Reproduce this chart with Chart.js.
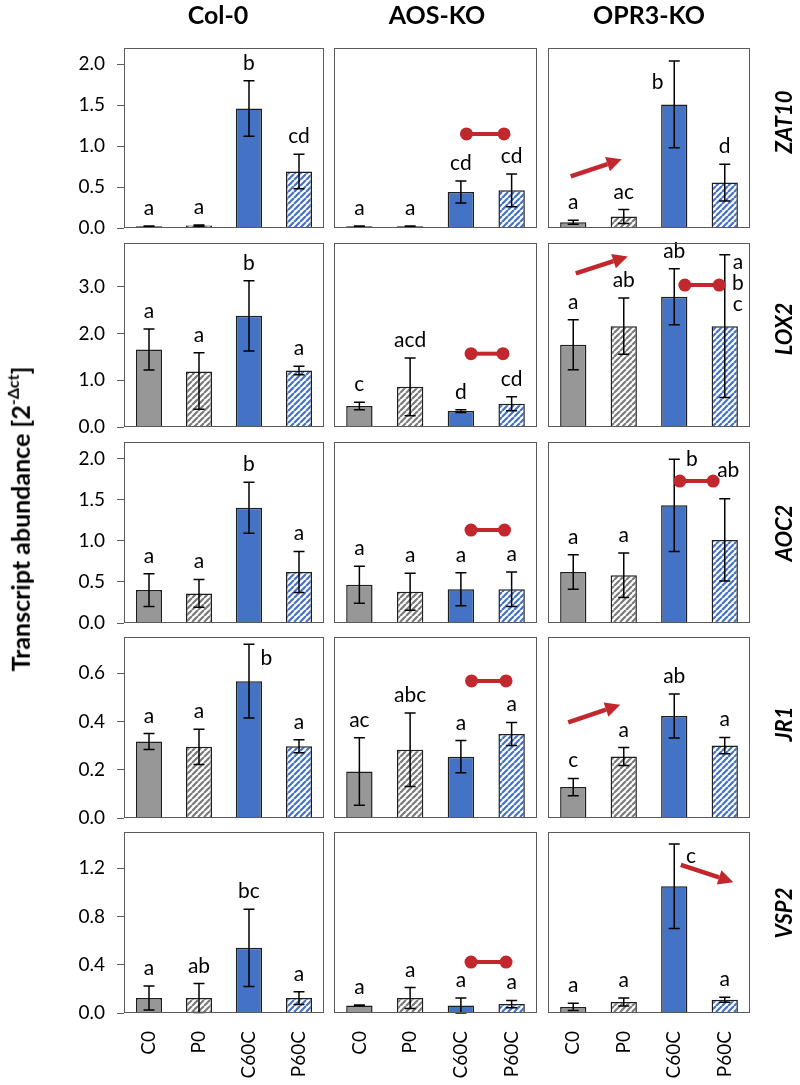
<!DOCTYPE html>
<html><head><meta charset="utf-8">
<script src="https://cdn.jsdelivr.net/npm/chart.js@4.4.1/dist/chart.umd.min.js"></script>
<style>
body{margin:0;background:#fff;width:800px;height:1085px;position:relative;overflow:hidden;font-family:Lato,"Open Sans",sans-serif;color:#000}
canvas{position:absolute}
.hdr{position:absolute;font-weight:bold;font-size:25px;transform:translate(-50%,-50%);white-space:nowrap}
.rowlab{position:absolute;font-weight:bold;font-style:italic;font-size:22px;transform:translate(-50%,-50%) rotate(-90deg);white-space:nowrap}
.ytitle{position:absolute;font-weight:bold;font-size:25px;transform:translate(-50%,-50%) rotate(-90deg);white-space:nowrap}
.ytitle sup{font-size:16px;position:relative;top:-2px}
</style></head>
<body>
<script>
// ---------- DATA ----------
const categories = ['C0', 'P0', 'C60C', 'P60C'];
const genotypes = ['Col-0', 'AOS-KO', 'OPR3-KO'];
const genes = ['ZAT10', 'LOX2', 'AOC2', 'JR1', 'VSP2'];

// y tick labels per gene row
const zat10Ticks = [0, 0.5, 1.0, 1.5, 2.0];
const lox2Ticks = [0, 1.0, 2.0, 3.0];
const aoc2Ticks = [0, 0.5, 1.0, 1.5, 2.0];
const jr1Ticks = [0, 0.2, 0.4, 0.6];
const vsp2Ticks = [0, 0.4, 0.8, 1.2];
const yMaxima = [2.2, 3.94, 2.2, 0.75, 1.5];

// ZAT10
const zat10Col0 = [0.02, 0.03, 1.46, 0.69];
const zat10Col0Err = [0.005, 0.008, 0.34, 0.21];
const zat10Col0Let = ['a', 'a', 'b', 'cd'];
const zat10Aos = [0.02, 0.02, 0.44, 0.46];
const zat10AosErr = [0.004, 0.005, 0.135, 0.2];
const zat10AosLet = ['a', 'a', 'cd', 'cd'];
const zat10Opr3 = [0.07, 0.14, 1.51, 0.555];
const zat10Opr3Err = [0.025, 0.085, 0.53, 0.225];
const zat10Opr3Let = ['a', 'ac', 'b', 'd'];
// LOX2  (error entry may be [down, up])
const lox2Col0 = [1.66, 1.19, 2.38, 1.21];
const lox2Col0Err = [0.44, [0.81, 0.40], 0.75, 0.09];
const lox2Col0Let = ['a', 'a', 'b', 'a'];
const lox2Aos = [0.45, 0.86, 0.34, 0.50];
const lox2AosErr = [0.08, 0.62, 0.03, 0.15];
const lox2AosLet = ['c', 'acd', 'd', 'cd'];
const lox2Opr3 = [1.76, 2.16, 2.79, 2.16];
const lox2Opr3Err = [0.535, 0.6, 0.6, 1.53];
const lox2Opr3Let = ['a', 'ab', 'ab', 'abc'];
// AOC2
const aoc2Col0 = [0.40, 0.36, 1.40, 0.62];
const aoc2Col0Err = [0.2, 0.17, 0.31, 0.25];
const aoc2Col0Let = ['a', 'a', 'b', 'a'];
const aoc2Aos = [0.465, 0.38, 0.41, 0.41];
const aoc2AosErr = [0.225, 0.225, 0.2, 0.21];
const aoc2AosLet = ['a', 'a', 'a', 'a'];
const aoc2Opr3 = [0.62, 0.58, 1.43, 1.01];
const aoc2Opr3Err = [0.21, 0.27, 0.56, 0.5];
const aoc2Opr3Let = ['a', 'a', 'b', 'ab'];
// JR1
const jr1Col0 = [0.317, 0.295, 0.567, 0.297];
const jr1Col0Err = [0.033, 0.073, 0.153, 0.027];
const jr1Col0Let = ['a', 'a', 'b', 'a'];
const jr1Aos = [0.193, 0.283, 0.254, 0.348];
const jr1AosErr = [0.14, 0.152, 0.067, 0.048];
const jr1AosLet = ['ac', 'abc', 'a', 'a'];
const jr1Opr3 = [0.128, 0.255, 0.423, 0.30];
const jr1Opr3Err = [0.036, 0.037, 0.091, 0.034];
const jr1Opr3Let = ['c', 'a', 'ab', 'a'];
// VSP2
const vsp2Col0 = [0.124, 0.124, 0.54, 0.124];
const vsp2Col0Err = [0.1, 0.12, 0.32, 0.053];
const vsp2Col0Let = ['a', 'ab', 'bc', 'a'];
const vsp2Aos = [0.063, 0.124, 0.063, 0.074];
const vsp2AosErr = [0.003, 0.087, 0.062, 0.03];
const vsp2AosLet = ['a', 'a', 'a', 'a'];
const vsp2Opr3 = [0.05, 0.091, 1.05, 0.11];
const vsp2Opr3Err = [0.03, 0.033, 0.35, 0.02];
const vsp2Opr3Let = ['a', 'a', 'c', 'a'];

// ---------- LAYOUT / ANNOTATION CONFIG ----------
const colL = [124, 334, 548], colR = [324, 537, 750];
const rowT = [48, 243, 442, 637, 832], rowB = [228, 427, 623, 818, 1013];
// red "no change" dumbbells: [row, col, xFrom, xTo, value] (category units / data value)
const dumbbells = [
  [0, 1, 2.11, 2.85, 1.15], [1, 1, 2.2, 2.83, 1.57], [1, 2, 2.21, 2.89, 3.04],
  [2, 1, 2.2, 2.86, 1.13], [2, 2, 2.11, 2.77, 1.725], [3, 1, 2.21, 2.89, 0.568],
  [4, 1, 2.2, 2.89, 0.422]
];
// red arrows: [row, col, x1, v1, x2, v2]
const arrows = [
  [0, 2, -0.05, 0.63, 0.96, 0.84], [1, 2, 0.05, 3.29, 1.08, 3.65],
  [3, 2, -0.1, 0.396, 0.93, 0.469], [4, 2, 2.13, 1.228, 3.17, 1.084]
];
// letters not placed directly above their error bar: [row, col, bar, dx(cat units), value(middle), stacked]
const labelSpots = [
  [0, 2, 2, -0.33, 1.78, false], [1, 2, 3, 0.26, 3.07, true], [2, 2, 2, 0.35, 1.99, false],
  [2, 2, 3, 0.07, 1.86, false], [3, 0, 2, 0.35, 0.663, false], [4, 2, 2, 0.33, 1.30, false]
];

const tickRows = [zat10Ticks, lox2Ticks, aoc2Ticks, jr1Ticks, vsp2Ticks];
const table = [
  [[zat10Col0, zat10Col0Err, zat10Col0Let], [zat10Aos, zat10AosErr, zat10AosLet], [zat10Opr3, zat10Opr3Err, zat10Opr3Let]],
  [[lox2Col0, lox2Col0Err, lox2Col0Let], [lox2Aos, lox2AosErr, lox2AosLet], [lox2Opr3, lox2Opr3Err, lox2Opr3Let]],
  [[aoc2Col0, aoc2Col0Err, aoc2Col0Let], [aoc2Aos, aoc2AosErr, aoc2AosLet], [aoc2Opr3, aoc2Opr3Err, aoc2Opr3Let]],
  [[jr1Col0, jr1Col0Err, jr1Col0Let], [jr1Aos, jr1AosErr, jr1AosLet], [jr1Opr3, jr1Opr3Err, jr1Opr3Let]],
  [[vsp2Col0, vsp2Col0Err, vsp2Col0Let], [vsp2Aos, vsp2AosErr, vsp2AosLet], [vsp2Opr3, vsp2Opr3Err, vsp2Opr3Let]]
];

const FONT = 'Lato, "Open Sans", sans-serif';
Chart.defaults.font.family = FONT;
Chart.defaults.color = '#000';
const RED = '#C1272D';
const GRAY = '#979797', BLUE = '#4472C4';

function hatch(color) {
  const s = 6, c = document.createElement('canvas');
  c.width = s; c.height = s;
  const g = c.getContext('2d');
  g.fillStyle = '#fff'; g.fillRect(0, 0, s, s);
  g.strokeStyle = color; g.lineWidth = 2.2;
  g.beginPath();
  for (const k of [-1, 0, 1]) { g.moveTo(k * s, s); g.lineTo(k * s + s, 0); }
  g.stroke();
  return g.createPattern(c, 'repeat');
}
const grayHatch = hatch('#7a7a7a');
const blueHatch = hatch(BLUE);

function makePanel(r, c) {
  const [means, errs, letters] = table[r][c];
  const L = colL[c], R = colR[c], T = rowT[r], B = rowB[r];
  const PAD = 30;
  const wy = c === 0 ? 70 : 0;
  const hx = r === 4 ? 72 : 0;
  const W = (R - L) + 2 * PAD + wy, H = (B - T) + 2 * PAD + hx;
  const cv = document.createElement('canvas');
  cv.width = W; cv.height = H;
  cv.style.left = (L - PAD - wy) + 'px'; cv.style.top = (T - PAD) + 'px';
  cv.style.width = W + 'px'; cv.style.height = H + 'px';
  document.body.appendChild(cv);

  const deco = {
    id: 'deco' + r + c,
    afterDatasetsDraw(chart) {
      const ctx = chart.ctx, xs = chart.scales.x, ys = chart.scales.y;
      const meta = chart.getDatasetMeta(0);
      const ca = chart.chartArea;
      ctx.save();
      // error bars
      ctx.strokeStyle = '#000'; ctx.lineWidth = 1.5;
      means.forEach((m, i) => {
        const e = errs[i];
        const dn = Array.isArray(e) ? e[0] : e, up = Array.isArray(e) ? e[1] : e;
        const x = meta.data[i].x, yt = ys.getPixelForValue(m + up), yb = ys.getPixelForValue(Math.max(m - dn, 0));
        const cap = 5.5;
        ctx.beginPath();
        ctx.moveTo(x, yt); ctx.lineTo(x, yb);
        ctx.moveTo(x - cap, yt); ctx.lineTo(x + cap, yt);
        ctx.moveTo(x - cap, yb); ctx.lineTo(x + cap, yb);
        ctx.stroke();
      });
      // letters
      ctx.fillStyle = '#000';
      ctx.font = '21px ' + FONT;
      letters.forEach((t, i) => {
        const spot = labelSpots.find(s => s[0] === r && s[1] === c && s[2] === i);
        if (spot) {
          const x = xs.getPixelForValue(i + spot[3]);
          const y = ys.getPixelForValue(spot[4]);
          ctx.textAlign = 'center'; ctx.textBaseline = 'middle';
          if (spot[5]) {
            const chars = t.split('');
            chars.forEach((ch, k) => ctx.fillText(ch, x, y + (k - (chars.length - 1) / 2) * 21));
          } else ctx.fillText(t, x, y);
        } else {
          const e = errs[i];
          const up = Array.isArray(e) ? e[1] : e;
          ctx.textAlign = 'center'; ctx.textBaseline = 'alphabetic';
          ctx.fillText(t, meta.data[i].x, ys.getPixelForValue(means[i] + up) - 11);
        }
      });
      // dumbbells
      ctx.strokeStyle = RED; ctx.fillStyle = RED;
      dumbbells.filter(d => d[0] === r && d[1] === c).forEach(d => {
        const x1 = xs.getPixelForValue(d[2]), x2 = xs.getPixelForValue(d[3]), y = ys.getPixelForValue(d[4]);
        ctx.lineWidth = 4;
        ctx.beginPath(); ctx.moveTo(x1, y); ctx.lineTo(x2, y); ctx.stroke();
        ctx.beginPath(); ctx.arc(x1, y, 6.5, 0, Math.PI * 2); ctx.fill();
        ctx.beginPath(); ctx.arc(x2, y, 6.5, 0, Math.PI * 2); ctx.fill();
      });
      // arrows
      arrows.filter(a => a[0] === r && a[1] === c).forEach(a => {
        const x1 = xs.getPixelForValue(a[2]), y1 = ys.getPixelForValue(a[3]);
        const x2 = xs.getPixelForValue(a[4]), y2 = ys.getPixelForValue(a[5]);
        const ang = Math.atan2(y2 - y1, x2 - x1), hl = 15, hw = 7.5;
        const bx = x2 - hl * Math.cos(ang), by = y2 - hl * Math.sin(ang);
        ctx.lineWidth = 4.5;
        ctx.beginPath(); ctx.moveTo(x1, y1); ctx.lineTo(bx, by); ctx.stroke();
        ctx.beginPath();
        ctx.moveTo(x2, y2);
        ctx.lineTo(bx + hw * Math.sin(ang), by - hw * Math.cos(ang));
        ctx.lineTo(bx - hw * Math.sin(ang), by + hw * Math.cos(ang));
        ctx.closePath(); ctx.fill();
      });
      // frame
      ctx.strokeStyle = '#5a5a5a'; ctx.lineWidth = 1;
      ctx.strokeRect(ca.left + 0.5, ca.top + 0.5, ca.right - ca.left - 1, ca.bottom - ca.top - 1);
      ctx.restore();
    }
  };

  const ticks = tickRows[r];
  new Chart(cv, {
    type: 'bar',
    data: {
      labels: categories,
      datasets: [{
        data: means,
        backgroundColor: [GRAY, grayHatch, BLUE, blueHatch],
        borderColor: '#1e1e1e', borderWidth: 1.5,
        barPercentage: 0.52, categoryPercentage: 1
      }]
    },
    options: {
      responsive: false, animation: false, events: [],
      layout: { padding: PAD },
      plugins: { legend: { display: false }, tooltip: { enabled: false } },
      scales: {
        x: {
          display: r === 4,
          grid: { display: false, drawTicks: false },
          border: { display: false },
          ticks: { minRotation: 90, maxRotation: 90, padding: 18, font: { size: 19 }, color: '#000' },
          afterFit: s => { s.height = hx; }
        },
        y: {
          display: c === 0,
          min: 0, max: yMaxima[r],
          afterBuildTicks: s => { s.ticks = ticks.map(v => ({ value: v })); },
          ticks: { callback: v => Number(v).toFixed(1), padding: 12, font: { size: 19 }, color: '#000' },
          grid: { drawOnChartArea: false, drawTicks: true, tickLength: 7, color: '#5a5a5a', lineWidth: 1 },
          border: { display: false },
          afterFit: s => { s.width = wy; }
        }
      }
    },
    plugins: [deco]
  });
}

for (let r = 0; r < genes.length; r++) for (let c = 0; c < genotypes.length; c++) makePanel(r, c);

// text
const hdrX = [218, 437, 649];
genotypes.forEach((g, i) => {
  const d = document.createElement('div'); d.className = 'hdr'; d.textContent = g;
  d.style.left = hdrX[i] + 'px'; d.style.top = '14px'; document.body.appendChild(d);
});
const rowLabY = [122, 329, 533, 724, 913];
genes.forEach((g, i) => {
  const d = document.createElement('div'); d.className = 'rowlab'; d.textContent = g;
  d.style.left = '783px'; d.style.top = rowLabY[i] + 'px'; document.body.appendChild(d);
});
const yt = document.createElement('div'); yt.className = 'ytitle';
yt.innerHTML = 'Transcript abundance [2<sup>-Δct</sup>]';
yt.style.left = '20px'; yt.style.top = '519px'; document.body.appendChild(yt);
</script>
</body></html>
